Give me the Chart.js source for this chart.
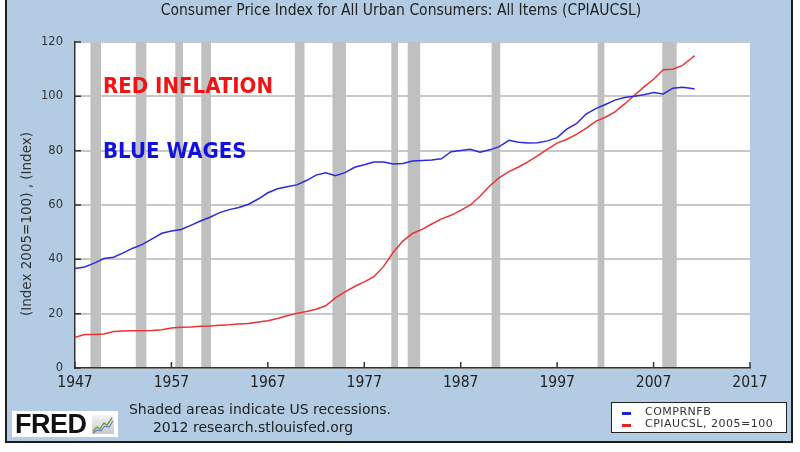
<!DOCTYPE html>
<html>
<head>
<meta charset="utf-8">
<script src="https://cdn.jsdelivr.net/npm/chart.js@4"></script>
<style>
  html,body{margin:0;padding:0;background:#fff;}
  #wrap{position:relative;width:800px;height:452px;overflow:hidden;}
  #panel{position:absolute;left:5px;top:-3px;width:788px;height:446px;background:#b4cce3;border:2px solid #1c1c1c;box-sizing:border-box;}
  canvas{position:absolute;left:0;top:0;}
  .txt{position:absolute;white-space:nowrap;}
  #title{left:0;top:1px;width:802px;text-align:center;font:15.5px 'DejaVu Sans Condensed','DejaVu Sans',sans-serif;color:#222;line-height:19px;}
  #ytitle{left:26px;top:224px;transform:translate(-50%,-50%) rotate(-90deg);font:13.5px 'DejaVu Sans',sans-serif;color:#333;}
  .ann{font:bold 22px 'DejaVu Sans Condensed','DejaVu Sans',sans-serif;line-height:22px;left:103px;}
  #note1,#note2{font:14px 'DejaVu Sans',sans-serif;color:#222;line-height:16px;text-align:center;width:300px;}
  #fred{position:absolute;left:12px;top:411px;width:106px;height:26px;background:#fff;}
  #fredtxt{position:absolute;left:3px;top:0px;font:bold 27px 'Liberation Sans',Arial,sans-serif;line-height:26px;color:#111;letter-spacing:-0.5px;}
  #legend{position:absolute;left:611px;top:402px;width:176px;height:31px;background:#fff;border:1.5px solid #222;box-sizing:border-box;}
  .lg{position:absolute;left:33px;font:11px 'DejaVu Sans',sans-serif;color:#333;letter-spacing:0.5px;line-height:12px;}
  .sw{position:absolute;left:10px;width:9px;height:2.5px;}
</style>
</head>
<body>
<div id="wrap">
  <div id="panel"></div>
  <canvas id="c" width="800" height="452"></canvas>
  <div class="txt" id="title">Consumer Price Index for All Urban Consumers: All Items (CPIAUCSL)</div>
  <div class="txt" id="ytitle">(Index 2005=100) , (Index)</div>
  <div class="txt ann" style="top:75px;color:#f01414;">RED INFLATION</div>
  <div class="txt ann" style="top:140px;color:#1212e0;">BLUE WAGES</div>
  <div class="txt" id="note1" style="left:110px;top:401px;">Shaded areas indicate US recessions.</div>
  <div class="txt" id="note2" style="left:103px;top:419px;">2012 research.stlouisfed.org</div>
  <div id="fred">
    <div id="fredtxt">FRED</div>
    <svg style="position:absolute;left:80px;top:4px;" width="22" height="19" viewBox="0 0 22 19">
      <defs><linearGradient id="g" x1="0" y1="0" x2="0" y2="1"><stop offset="0" stop-color="#f4f4f4"/><stop offset="1" stop-color="#c8c8c8"/></linearGradient></defs>
      <rect x="0" y="0" width="22" height="19" fill="url(#g)"/>
      <polyline points="1,16 5,12 8,14 12,8 15,10 20,3" fill="none" stroke="#6a9a3a" stroke-width="1.3"/>
      <polyline points="1,18 5,15 9,16 13,11 17,12 21,6" fill="none" stroke="#5a7ac0" stroke-width="1.1"/>
    </svg>
  </div>
  <div id="legend">
    <div class="sw" style="top:9px;background:#2020e0;"></div>
    <div class="lg" style="top:3px;">COMPRNFB</div>
    <div class="sw" style="top:21px;background:#e82020;"></div>
    <div class="lg" style="top:15px;">CPIAUCSL, 2005=100</div>
  </div>
</div>
<script>
// ---- data ----
const years = [1947,1948,1949,1950,1951,1952,1953,1954,1955,1956,1957,1958,1959,1960,1961,1962,1963,1964,1965,1966,1967,1968,1969,1970,1971,1972,1973,1974,1975,1976,1977,1978,1979,1980,1981,1982,1983,1984,1985,1986,1987,1988,1989,1990,1991,1992,1993,1994,1995,1996,1997,1998,1999,2000,2001,2002,2003,2004,2005,2006,2007,2008,2009,2010,2011,2011.25];
const wagesCOMPRNFB = [36.6,37.2,38.6,40.3,40.8,42.4,44.1,45.5,47.5,49.6,50.4,51.0,52.5,54.1,55.5,57.2,58.3,59.1,60.3,62.2,64.5,66.0,66.7,67.4,69.0,71.0,71.9,70.8,71.9,73.9,74.8,75.8,75.8,75.1,75.3,76.2,76.4,76.6,77.0,79.6,80.1,80.5,79.4,80.3,81.5,83.8,83.1,82.8,82.9,83.6,84.8,87.9,89.9,93.5,95.5,97.0,98.6,99.6,100.0,100.6,101.4,100.9,103.0,103.3,102.9,102.7];
const cpiCPIAUCSL = [11.3,12.3,12.3,12.5,13.4,13.6,13.7,13.7,13.8,14.1,14.7,15.0,15.1,15.4,15.5,15.7,15.9,16.2,16.4,16.9,17.4,18.2,19.2,20.1,20.8,21.6,22.9,25.8,28.0,30.0,31.7,33.6,37.4,42.6,46.7,49.5,51.0,53.0,54.9,56.2,58.0,60.0,63.2,67.0,70.1,72.3,74.0,76.0,78.2,80.6,82.8,84.2,86.0,88.2,90.8,92.3,94.3,97.2,100.3,103.5,106.3,109.8,110.0,111.4,114.2,115.0];
const recessionStart = [1948.6,1953.3,1957.4,1960.1,1969.8,1973.7,1979.8,1981.5,1990.2,2001.2,2007.9];
const recessionEnd   = [1949.7,1954.4,1958.2,1961.1,1970.8,1975.1,1980.5,1982.8,1991.1,2001.9,2009.4];
const xTickLabels = [1947,1957,1967,1977,1987,1997,2007,2017];
const yTickLabels = [0,20,40,60,80,100,120];

const fredPlugin = {
  id: 'fredDecor',
  beforeDraw(chart) {
    const {ctx, chartArea: a} = chart;
    ctx.save();
    ctx.fillStyle = '#ffffff';
    ctx.fillRect(a.left, a.top, a.right - a.left, a.bottom - a.top);
    ctx.restore();
  },
  beforeDatasetsDraw(chart) {
    const {ctx, chartArea: a, scales: {x}} = chart;
    ctx.save();
    ctx.fillStyle = '#c0c0c0';
    for (let i = 0; i < recessionStart.length; i++) {
      const x1 = x.getPixelForValue(recessionStart[i]);
      const x2 = x.getPixelForValue(recessionEnd[i]);
      ctx.fillRect(x1, a.top, x2 - x1, a.bottom - a.top - 1);
    }
    ctx.restore();
  },
  afterDraw(chart) {
    const {ctx, chartArea: a, scales: {x, y}} = chart;
    ctx.save();
    ctx.strokeStyle = '#333';
    ctx.lineWidth = 1.5;
    ctx.beginPath();
    y.ticks.forEach(t => { const py = y.getPixelForValue(t.value); ctx.moveTo(a.left, py); ctx.lineTo(a.left + 6, py); });
    x.ticks.forEach(t => { const px = x.getPixelForValue(t.value); ctx.moveTo(px, a.bottom); ctx.lineTo(px, a.bottom - 6); });
    ctx.stroke();
    ctx.restore();
  }
};

new Chart(document.getElementById('c'), {
  type: 'line',
  data: {
    datasets: [
      {label: 'COMPRNFB', data: years.map((yr, i) => ({x: yr, y: wagesCOMPRNFB[i]})),
       borderColor: '#2a2ade', borderWidth: 1.5, pointRadius: 0, tension: 0, fill: false},
      {label: 'CPIAUCSL, 2005=100', data: years.map((yr, i) => ({x: yr, y: cpiCPIAUCSL[i]})),
       borderColor: '#e83434', borderWidth: 1.5, pointRadius: 0, tension: 0, fill: false}
    ]
  },
  options: {
    responsive: false, animation: false, devicePixelRatio: 1,
    layout: {padding: {left: 10, right: 50, top: 42, bottom: 0}},
    plugins: {legend: {display: false}, tooltip: {enabled: false}, title: {display: false}},
    scales: {
      x: {
        type: 'linear', min: xTickLabels[0], max: xTickLabels[xTickLabels.length - 1],
        afterBuildTicks: s => { s.ticks = xTickLabels.map(v => ({value: v})); },
        afterFit: s => { s.height = 84; },
        grid: {display: false, drawTicks: false},
        border: {display: true, color: '#333', width: 1.5},
        ticks: {padding: 6, autoSkip: false, maxRotation: 0, color: '#222',
                font: {family: "'DejaVu Sans Condensed','DejaVu Sans'", size: 15.5},
                callback: v => String(v)}
      },
      y: {
        min: 0, max: 120,
        afterBuildTicks: s => { s.ticks = yTickLabels.map(v => ({value: v})); },
        afterFit: s => { s.width = 65; },
        grid: {color: '#c8c8c8', lineWidth: 2, drawTicks: false},
        border: {display: true, color: '#333', width: 1.5},
        ticks: {padding: 12, color: '#333', font: {family: "'DejaVu Sans'", size: 11.5},
                callback: v => String(v)}
      }
    }
  },
  plugins: [fredPlugin]
});
</script>
</body>
</html>
